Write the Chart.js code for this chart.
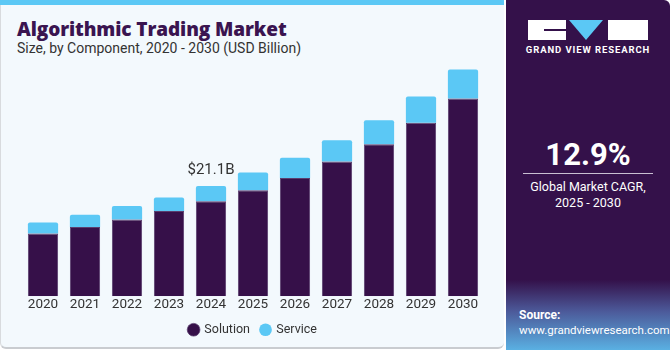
<!DOCTYPE html>
<html>
<head>
<meta charset="utf-8">
<script src="https://cdn.jsdelivr.net/npm/chart.js@4.4.0/dist/chart.umd.min.js"></script>
<style>
  html,body{margin:0;padding:0;width:670px;height:350px;overflow:hidden;background:#ffffff;font-family:Roboto,"Liberation Sans",sans-serif;}
  #left{position:absolute;left:0;top:0;width:504px;height:349px;background:#f3f9fd;border-bottom:2px solid #c9ccd0;border-left:1px solid #d8dbde;border-radius:0 0 6px 6px;box-sizing:border-box;}
  #stripe{position:absolute;left:0;top:0;width:504px;height:5px;background:#5bc8f5;}
  #title{position:absolute;left:17px;top:16px;font-size:19px;font-weight:900;color:#3a1450;letter-spacing:-0.1px;font-family:"Open Sans",Roboto,sans-serif;}
  #sub{position:absolute;left:17px;top:40px;font-size:14px;color:#333;}
  #cv{position:absolute;left:0;top:9px;}
  #right{position:absolute;left:506px;top:0;width:164px;height:350px;background:#34114a;border-radius:0 6px 0 0;overflow:hidden;}
  #grad{position:absolute;left:0;top:280px;width:164px;height:70px;background:linear-gradient(#34114a 0%,#4c5a9a 45%,#5ab0e2 100%);}
  .w{position:absolute;color:#fff;text-align:center;width:164px;left:0;}
</style>
</head>
<body>
<div id="left"></div>
<div id="stripe"></div>
<div id="title">Algorithmic Trading Market</div>
<div id="sub">Size, by Component, 2020 - 2030 (USD Billion)</div>
<canvas id="cv" width="504" height="340"></canvas>
<div id="right">
  <div style="position:absolute;left:22px;top:20px;width:38px;height:20px;background:#fff;"></div>
  <div style="position:absolute;left:38px;top:29px;width:22px;height:2px;background:#34114a;"></div>
  <div style="position:absolute;left:63px;top:20px;width:0;height:0;border-left:17px solid transparent;border-right:17px solid transparent;border-top:20px solid #5bc8f5;"></div>
  <div style="position:absolute;left:102px;top:20px;width:40px;height:20px;background:#fff;"></div>
  <div class="w" style="top:44px;font-size:9.5px;font-weight:700;letter-spacing:0.9px;">GRAND VIEW RESEARCH</div>
  <div class="w" style="top:136px;font-size:31px;font-weight:700;">12.9%</div>
  <div style="position:absolute;left:17px;top:173px;width:130px;height:1px;background:#c9bfd2;"></div>
  <div class="w" style="top:179px;font-size:12.5px;line-height:16px;">Global Market CAGR,<br>2025 - 2030</div>
  <div id="grad"></div>
  <div style="position:absolute;left:13px;top:308px;color:#fff;font-size:12px;font-weight:700;">Source:</div>
  <div style="position:absolute;left:13px;top:323px;color:#fff;font-size:11.5px;">www.grandviewresearch.com</div>
</div>
<script>
const categories = ["2020","2021","2022","2023","2024","2025","2026","2027","2028","2029","2030"];
const solution = [12.0, 13.25, 14.67, 16.3, 18.18, 20.3, 22.65, 25.8, 29.1, 33.2, 37.85];
const service  = [2.14, 2.34, 2.61, 2.59, 2.92, 3.39, 3.84, 4.03, 4.56, 5.0, 5.53];
const annotations = [{index: 4, text: "$21.1B"}];

const labelPlugin = {
  id: 'lbl',
  afterDatasetsDraw(chart) {
    const ctx = chart.ctx;
    const xs = chart.scales.x, ys = chart.scales.y;
    ctx.save();
    ctx.fillStyle = '#333';
    ctx.font = '15px Roboto, "Liberation Sans", sans-serif';
    ctx.textAlign = 'center';
    ctx.textBaseline = 'alphabetic';
    annotations.forEach(a => {
      const total = solution[a.index] + service[a.index];
      ctx.fillText(a.text, xs.getPixelForValue(a.index), ys.getPixelForValue(total) - 12);
    });
    ctx.restore();
  }
};

new Chart(document.getElementById('cv'), {
  type: 'bar',
  data: {
    labels: categories,
    datasets: [
      {label: 'Solution', data: solution, backgroundColor: '#361049', borderColor: '#5a3e6e', borderWidth: {left:1,right:1,top:1,bottom:0}, borderSkipped: 'bottom'},
      {label: 'Service', data: service, backgroundColor: '#5bc8f5', borderRadius: {topLeft:2, topRight:2}, borderSkipped: false}
    ]
  },
  options: {
    responsive: false,
    animation: false,
    layout: {padding: {left: 22, right: 20, top: 51, bottom: 3}},
    plugins: {
      legend: {
        position: 'bottom',
        labels: {usePointStyle: true, pointStyle: 'circle', boxWidth: 9, boxHeight: 9, padding: 11, color: '#333', font: {size: 12.5, family: 'Roboto, "Liberation Sans", sans-serif'}}
      },
      tooltip: {enabled: false}
    },
    scales: {
      x: {stacked: true, grid: {display: false, drawTicks: false}, border: {display: false},
          ticks: {color: '#333', padding: 0, font: {size: 13.5, family: 'Roboto, "Liberation Sans", sans-serif'}},
          categoryPercentage: 1, barPercentage: 0.57},
      y: {stacked: true, display: false, min: 0, max: 45.2}
    }
  },
  plugins: [labelPlugin]
});
</script>
</body>
</html>
